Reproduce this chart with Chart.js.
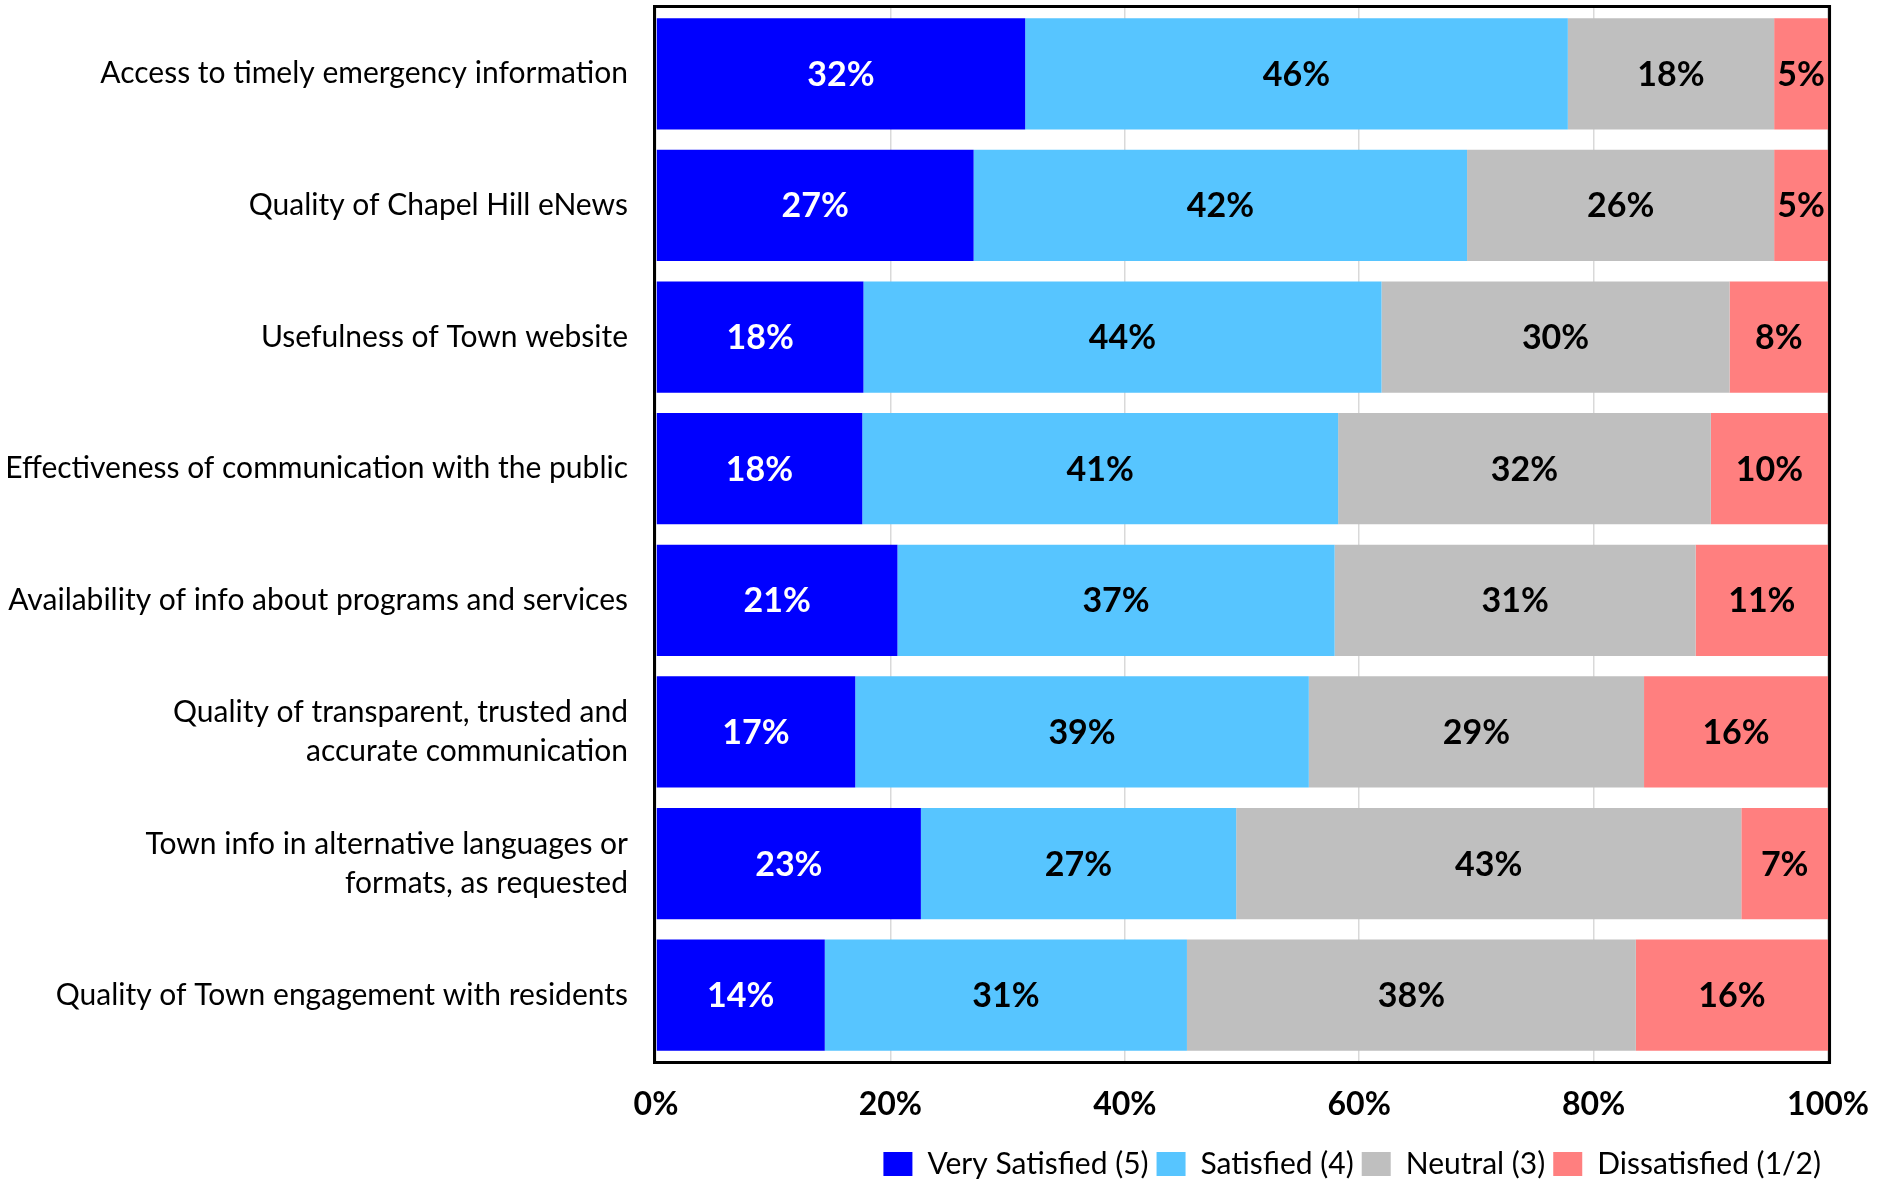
<!DOCTYPE html>
<html>
<head>
<meta charset="utf-8">
<title>Communication satisfaction</title>
<script src="https://cdn.jsdelivr.net/npm/chart.js@4.4.1/dist/chart.umd.min.js"></script>
<style>
  html, body { margin: 0; padding: 0; background: #fff; }
  #wrap { width: 1893px; height: 1183px; }
</style>
</head>
<body>
<div id="wrap"><canvas id="satisfactionChart" width="1893" height="1183"></canvas></div>
<script>
// Survey items, listed top to bottom
const categories = [
  'Access to timely emergency information',
  'Quality of Chapel Hill eNews',
  'Usefulness of Town website',
  'Effectiveness of communication with the public',
  'Availability of info about programs and services',
  ['Quality of transparent, trusted and', 'accurate communication'],
  ['Town info in alternative languages or', 'formats, as requested'],
  'Quality of Town engagement with residents'
];

// Share of respondents (%) per rating
const verySatisfied = [31.5, 27.1, 17.7, 17.6, 20.6, 17.0, 22.6, 14.4];
const satisfied     = [46.3, 42.1, 44.2, 40.6, 37.3, 38.7, 26.9, 30.9];
const neutral       = [17.6, 26.2, 29.7, 31.8, 30.8, 28.6, 43.1, 38.3];
const dissatisfied  = [4.6, 4.6, 8.4, 10.0, 11.3, 15.7, 7.4, 16.4];

const xTickLabels = ['0%', '20%', '40%', '60%', '80%', '100%'];

const FONT = 'Lato';

// Percent label in the middle of every bar segment
const segmentLabels = {
  id: 'segmentLabels',
  afterDatasetsDraw(chart) {
    const ctx = chart.ctx;
    ctx.save();
    ctx.font = 'bold 34px ' + FONT;
    ctx.textAlign = 'center';
    ctx.textBaseline = 'middle';
    chart.data.datasets.forEach((ds, di) => {
      const meta = chart.getDatasetMeta(di);
      if (meta.hidden) return;
      meta.data.forEach((bar, i) => {
        const p = bar.getCenterPoint();
        ctx.fillStyle = ds.labelColor;
        ctx.fillText(Math.round(ds.data[i]) + '%', p.x, p.y + 1);
      });
    });
    ctx.restore();
  }
};

// Black box around the plot area
const plotFrame = {
  id: 'plotFrame',
  afterDatasetsDraw(chart) {
    const { ctx, chartArea: a } = chart;
    ctx.save();
    ctx.strokeStyle = '#000';
    ctx.lineWidth = 3;
    ctx.strokeRect(a.left - 1.5, a.top - 1.5, a.width + 3, a.height + 3);
    ctx.restore();
  }
};

const ctx = document.getElementById('satisfactionChart').getContext('2d');

new Chart(ctx, {
  type: 'bar',
  data: {
    labels: categories,
    datasets: [
      { label: 'Very Satisfied (5)', data: verySatisfied, backgroundColor: '#0000FF', labelColor: '#FFFFFF' },
      { label: 'Satisfied (4)', data: satisfied, backgroundColor: '#57C5FF', labelColor: '#000000' },
      { label: 'Neutral (3)', data: neutral, backgroundColor: '#BFBFBF', labelColor: '#000000' },
      { label: 'Dissatisfied (1/2)', data: dissatisfied, backgroundColor: '#FF7F7F', labelColor: '#000000' }
    ]
  },
  options: {
    indexAxis: 'y',
    responsive: false,
    devicePixelRatio: 1,
    animation: false,
    layout: { padding: { top: 8, right: 64, bottom: -6, left: 0 } },
    datasets: {
      bar: { barPercentage: 0.845, categoryPercentage: 1.0, borderWidth: 0 }
    },
    plugins: {
      tooltip: { enabled: false },
      legend: {
        position: 'bottom',
        align: 'end',
        labels: {
          color: '#000',
          font: { family: FONT, size: 30 },
          boxWidth: 29,
          boxHeight: 24,
          padding: 8
        }
      }
    },
    scales: {
      x: {
        stacked: true,
        min: 0,
        max: 100,
        ticks: {
          stepSize: 20,
          color: '#000',
          padding: 24,
          font: { family: FONT, size: 32, weight: 'bold' },
          callback: function(value, index) {
            return xTickLabels[index];
          }
        },
        grid: { color: '#D9D9D9', lineWidth: 1.5, drawTicks: false },
        border: { display: false },
        afterFit: function(scale) { scale.height = 80; }
      },
      y: {
        stacked: true,
        ticks: {
          color: '#000',
          padding: 28,
          font: { family: FONT, size: 30, lineHeight: 1.3 }
        },
        grid: { display: false, drawTicks: false },
        border: { display: false },
        afterFit: function(scale) {
          scale.width = 656;
          scale.paddingTop = 0;
          scale.paddingBottom = 0;
        }
      }
    }
  },
  plugins: [segmentLabels, plotFrame]
});
</script>
</body>
</html>
